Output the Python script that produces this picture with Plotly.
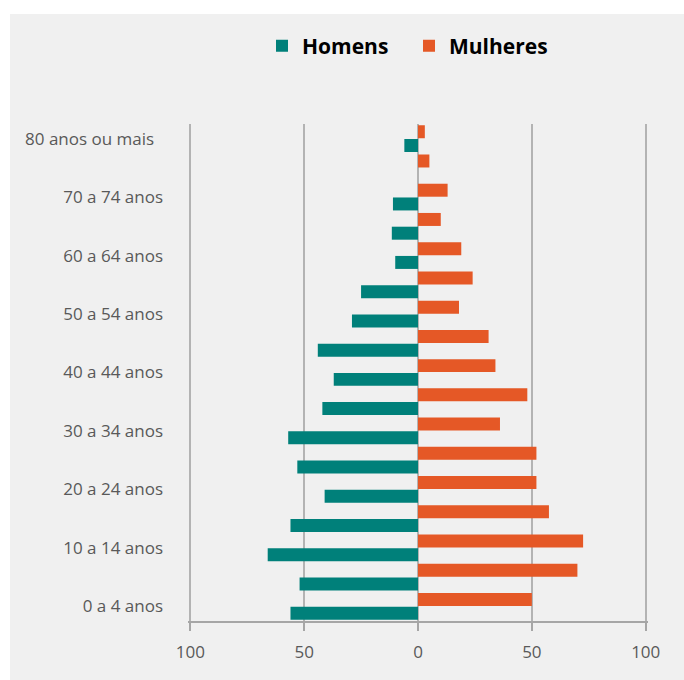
import plotly.graph_objects as go

# ---- data ----
categories = ["0 a 4 anos", "5 a 9 anos", "10 a 14 anos", "15 a 19 anos", "20 a 24 anos",
              "25 a 29 anos", "30 a 34 anos", "35 a 39 anos", "40 a 44 anos", "45 a 49 anos",
              "50 a 54 anos", "55 a 59 anos", "60 a 64 anos", "65 a 69 anos", "70 a 74 anos",
              "75 a 79 anos", "80 anos ou mais"]
homens = [56, 52, 66, 56, 41, 53, 57, 42, 37, 44, 29, 25, 10, 11.5, 11, 0, 6]
mulheres = [50, 70, 72.5, 57.5, 52, 52, 36, 48, 34, 31, 18, 24, 19, 10, 13, 5, 3]
y_tick_labels = ["0 a 4 anos", "", "10 a 14 anos", "", "20 a 24 anos", "", "30 a 34 anos", "",
                 "40 a 44 anos", "", "50 a 54 anos", "", "60 a 64 anos", "", "70 a 74 anos", "",
                 "80 anos ou mais\u00a0\u00a0"]
x_tick_vals = [-100, -50, 0, 50, 100]
x_tick_labels = ["100", "50", "0", "50", "100"]

TEAL = "#00807a"
ORANGE = "#e55826"
GRID = "#b3b3b3"
AXIS = "#a6a6a6"
TXT = "#595959"
FONT = "Open Sans"

W, H = 684, 680
ML, MR, MT, MB = 188, 36, 124, 59
PW, PH = W - ML - MR, H - MT - MB

fig = go.Figure()
fig.add_trace(go.Bar(name="Homens", y=categories, x=[-v for v in homens], orientation="h",
                     marker=dict(color=TEAL, line=dict(width=0))))
fig.add_trace(go.Bar(name="Mulheres", y=categories, x=mulheres, orientation="h",
                     marker=dict(color=ORANGE, line=dict(width=0))))

def px_x(p):
    return (p - ML) / PW

def px_y(p):
    return (H - MB - p) / PH

fig.update_layout(
    width=W, height=H,
    margin=dict(l=ML, r=MR, t=MT, b=MB, pad=0),
    paper_bgcolor="white",
    plot_bgcolor="rgba(0,0,0,0)",
    barmode="group", bargap=0.06, bargroupgap=0.055,
    font=dict(family=FONT, size=17, color=TXT),
    showlegend=True,
    legend=dict(orientation="h", x=px_x(262), xanchor="left", y=px_y(46), yanchor="middle",
                font=dict(family=FONT, size=21, color="#000000", weight=700),
                bgcolor="rgba(0,0,0,0)", itemwidth=30, traceorder="normal",
                entrywidth=102, entrywidthmode="pixels"),
    xaxis=dict(range=[-101, 101], tickmode="array", tickvals=x_tick_vals, ticktext=x_tick_labels,
               showgrid=True, gridcolor=GRID, gridwidth=1.5, zeroline=False,
               showline=True, linecolor=AXIS, linewidth=1.5,
               ticks="outside", ticklen=8, tickcolor=AXIS, tickwidth=1.5,
               ticklabelstandoff=7,
               tickfont=dict(family=FONT, size=17, color=TXT), fixedrange=True),
    yaxis=dict(type="category", categoryorder="array", categoryarray=categories,
               range=[-0.5, len(categories) - 0.5],
               tickmode="array", tickvals=categories, ticktext=y_tick_labels,
               showgrid=False, zeroline=False, showline=False, ticks="",
               ticklabelstandoff=24,
               tickfont=dict(family=FONT, size=17, color=TXT)),
    yaxis2=dict(overlaying="y", anchor="free", position=px_x(418), side="left",
                range=[-0.5, len(categories) - 0.5], tickmode="linear", tick0=-0.5, dtick=1,
                showticklabels=False, showgrid=False, zeroline=False,
                showline=True, linecolor=AXIS, linewidth=2,
                ticks="outside", ticklen=8, tickcolor=AXIS, tickwidth=1.5),
    shapes=[dict(type="rect", xref="paper", yref="paper", layer="below",
                 x0=px_x(10), x1=px_x(W + 5), y0=px_y(H + 5), y1=px_y(14),
                 fillcolor="#f0f0f0", line=dict(width=0))],
)

fig.write_html("out.html")
